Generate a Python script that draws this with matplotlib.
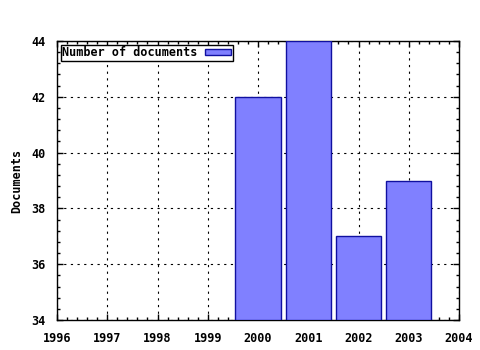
import matplotlib
matplotlib.use("Agg")
import matplotlib.pyplot as plt
from matplotlib.ticker import MultipleLocator

years = [2000, 2001, 2002, 2003]
docs = [42, 44, 37, 39]
xticks = list(range(1996, 2005))
yticks = [34, 36, 38, 40, 42, 44]

plt.rcParams['font.family'] = 'DejaVu Sans Mono'
plt.rcParams['font.weight'] = 'bold'
plt.rcParams['font.size'] = 8.5

fig = plt.figure(figsize=(4.8, 3.5), dpi=100)
ax = fig.add_axes([57/480, 30/350, 402/480, 279/350])

ax.bar(years, [d - 34 for d in docs], bottom=34, width=0.9, color='#8080ff',
       edgecolor='#1010a0', linewidth=1, label='Number of documents', zorder=3)

ax.set_xlim(1996, 2004)
ax.set_ylim(34, 44)
ax.set_xticks(xticks)
ax.set_yticks(yticks)
ax.xaxis.set_minor_locator(MultipleLocator(0.2))
ax.yaxis.set_minor_locator(MultipleLocator(0.4))
ax.tick_params(which='both', direction='in', top=True, right=True, length=4, width=1)
ax.tick_params(which='minor', length=2)
ax.tick_params(axis='x', which='major', pad=9)
ax.tick_params(axis='y', which='major', pad=8)
ax.grid(True, which='major', color='black', linestyle=(0, (2, 4)), linewidth=0.8, zorder=0)
for s in ax.spines.values():
    s.set_linewidth(1)
ax.set_ylabel('Documents', fontweight='bold', labelpad=6)

leg = ax.legend(loc='upper left', markerfirst=False, fancybox=False, framealpha=1,
                edgecolor='black', borderpad=0.15, handlelength=2.2, handleheight=0.5,
                handletextpad=0.6, borderaxespad=0.3, prop={'weight': 'bold', 'size': 8.5})
leg.get_frame().set_linewidth(1)

fig.savefig('out.png', dpi=100)
